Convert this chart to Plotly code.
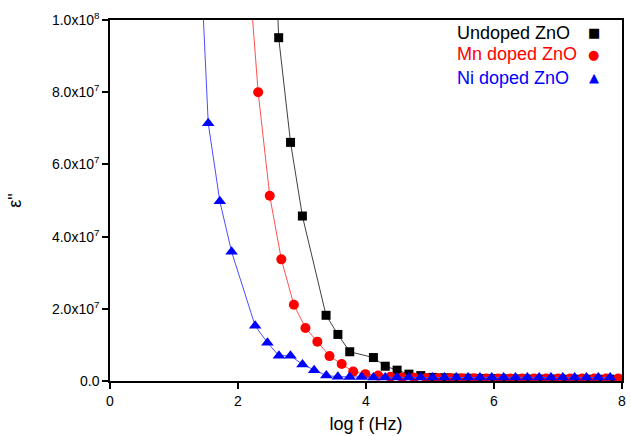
import plotly.graph_objects as go

# log f (Hz) and epsilon'' values
undoped_x = [2.45, 2.636, 2.821, 3.006, 3.376, 3.561, 3.746, 4.116, 4.301, 4.486, 4.671, 4.856,
             5.041, 5.226, 5.411, 5.596, 5.781, 5.966, 6.151, 6.336, 6.521, 6.706, 6.891, 7.076,
             7.261, 7.446, 7.631, 7.816, 8.0]
undoped_y = [1.77e8, 9.51e7, 6.61e7, 4.57e7, 1.82e7, 1.29e7, 8.1e6, 6.5e6, 4.1e6, 3.0e6, 1.9e6, 1.5e6,
             1.0e6, 9.0e5, 8.0e5, 7.5e5, 7.0e5, 6.5e5, 6.0e5, 6.0e5, 5.5e5, 5.5e5, 5.5e5, 5.0e5,
             5.0e5, 5.0e5, 5.0e5, 5.0e5, 5.0e5]

mn_x = [2.13, 2.315, 2.496, 2.677, 2.873, 3.054, 3.24, 3.43, 3.62, 3.80, 3.99, 4.19, 4.38,
        4.565, 4.752, 4.94, 5.127, 5.315, 5.502, 5.69, 5.877, 6.065, 6.252, 6.44, 6.627,
        6.815, 7.002, 7.19, 7.377, 7.565, 7.752, 7.94]
mn_y = [1.23e8, 8.0e7, 5.13e7, 3.37e7, 2.11e7, 1.47e7, 1.09e7, 6.9e6, 4.7e6, 2.6e6, 1.9e6, 1.5e6, 1.2e6,
        1.0e6, 9.0e5, 8.5e5, 8.0e5, 8.0e5, 7.5e5, 7.5e5, 7.0e5, 7.0e5, 7.0e5, 7.0e5, 7.0e5,
        7.0e5, 7.0e5, 7.0e5, 7.0e5, 7.0e5, 7.0e5, 7.0e5]

ni_x = [1.35, 1.535, 1.716, 1.90, 2.268, 2.46, 2.64, 2.82, 3.008, 3.19, 3.38, 3.56, 3.745,
        3.93, 4.115, 4.30, 4.485, 4.67, 4.855, 5.04, 5.225, 5.41, 5.595, 5.78, 5.965, 6.15,
        6.335, 6.52, 6.705, 6.89, 7.075, 7.26, 7.445, 7.63, 7.815]
ni_y = [1.42e8, 7.14e7, 4.98e7, 3.58e7, 1.53e7, 1.06e7, 7.0e6, 7.0e6, 4.6e6, 3.0e6, 1.5e6, 1.2e6, 1.1e6,
        1.1e6, 1.0e6, 1.0e6, 1.0e6, 1.0e6, 1.0e6, 1.0e6, 1.0e6, 1.0e6, 1.0e6, 1.0e6, 1.0e6, 1.0e6,
        1.0e6, 1.0e6, 1.0e6, 1.0e6, 1.0e6, 1.0e6, 1.0e6, 1.0e6, 1.0e6]

series_names = ["Undoped ZnO", "Mn doped ZnO", "Ni doped ZnO"]
x_ticks = [0, 2, 4, 6, 8]
y_tickvals = [0, 2e7, 4e7, 6e7, 8e7, 1e8]
y_ticktext = ["0.0", "2.0x10<sup>7</sup>", "4.0x10<sup>7</sup>", "6.0x10<sup>7</sup>",
              "8.0x10<sup>7</sup>", "1.0x10<sup>8</sup>"]

FONT = "Liberation Sans, Arial, sans-serif"

fig = go.Figure()
fig.add_trace(go.Scatter(x=undoped_x, y=undoped_y, mode="lines+markers", name=series_names[0],
                         line=dict(color="#404040", width=1),
                         marker=dict(symbol="square", size=9, color="black")))
fig.add_trace(go.Scatter(x=mn_x, y=mn_y, mode="lines+markers", name=series_names[1],
                         line=dict(color="#ff5050", width=1),
                         marker=dict(symbol="circle", size=10, color="red")))
fig.add_trace(go.Scatter(x=ni_x, y=ni_y, mode="lines+markers", name=series_names[2],
                         line=dict(color="#4d4dff", width=1),
                         marker=dict(symbol="triangle-up", size=11, color="blue")))

# legend (text on the left, symbol on the right as in the reference)
legend_items = [(series_names[0], "black", "■", 0.965), (series_names[1], "red", "●", 0.905),
                (series_names[2], "blue", "▲", 0.84)]
for name, col, glyph, yy in legend_items:
    fig.add_annotation(xref="paper", yref="paper", x=0.673, y=yy, text=name, showarrow=False,
                       xanchor="left", yanchor="middle", font=dict(family=FONT, size=18, color=col))
    fig.add_annotation(xref="paper", yref="paper", x=0.945, y=yy, text=glyph, showarrow=False,
                       xanchor="center", yanchor="middle", font=dict(family="DejaVu Sans", size=13, color=col))

axis_common = dict(showline=True, linecolor="black", linewidth=1.5, mirror=True, ticks="outside",
                   ticklen=6, tickwidth=1.5, tickcolor="black", showgrid=False, zeroline=False,
                   tickfont=dict(family=FONT, size=14, color="black"))
fig.update_xaxes(range=[0, 8], tickvals=x_ticks, title=dict(text="log f (Hz)", font=dict(family=FONT, size=18, color="black"), standoff=10),
                 **axis_common)
fig.update_yaxes(range=[0, 1e8], tickvals=y_tickvals, ticktext=y_ticktext,
                 title=dict(text='ε"', font=dict(family=FONT, size=18, color="black"), standoff=26),
                 **axis_common)
fig.update_layout(width=631, height=436, margin=dict(l=110, r=5, t=20, b=55),
                  plot_bgcolor="white", paper_bgcolor="white", showlegend=False,
                  font=dict(family=FONT, color="black"))
fig.write_html("out.html")
